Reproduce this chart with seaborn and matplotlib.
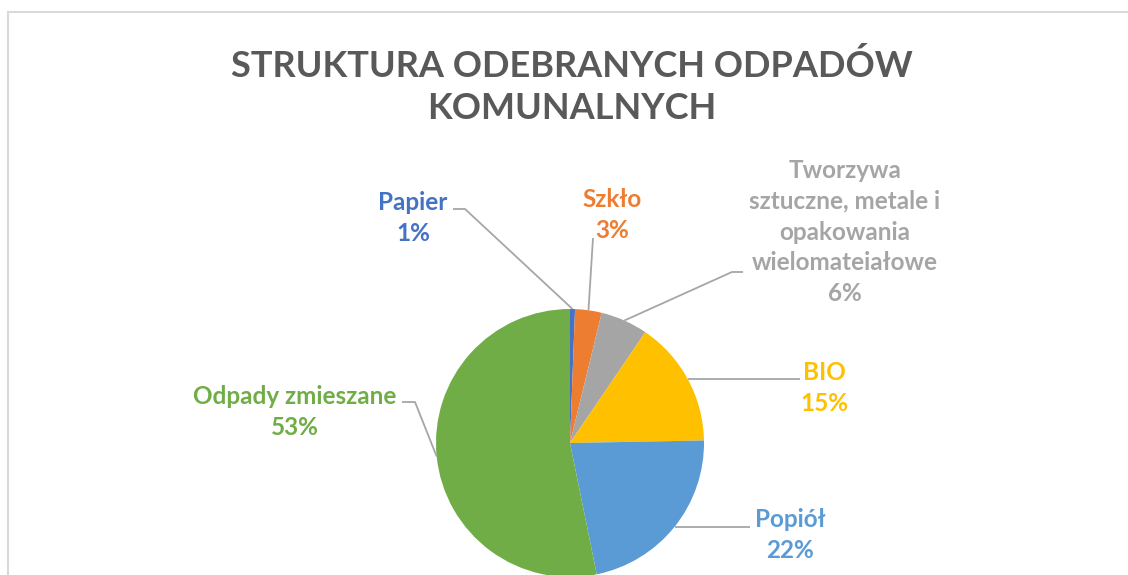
import numpy as np
import matplotlib
matplotlib.use("Agg")
import matplotlib.pyplot as plt
import seaborn as sns

# ---- data ----
categories = ["Papier", "Szkło", "Tworzywa\nsztuczne, metale i\nopakowania\nwielomateiałowe",
              "BIO", "Popiół", "Odpady zmieszane"]
values = [0.6, 3.2, 5.7, 15.2, 22.1, 53.2]
colors = ["#4472C4", "#ED7D31", "#A5A5A5", "#FFC000", "#5B9BD5", "#70AD47"]
title = "STRUKTURA ODEBRANYCH ODPADÓW\nKOMUNALNYCH"

sns.set_theme(style="white")
plt.rcParams["font.family"] = ["Lato", "DejaVu Sans"]

W, H = 1128, 575
fig = plt.figure(figsize=(W / 100, H / 100), dpi=100)
ax = fig.add_axes([0, 0, 1, 1])

def Y(y):
    return H - y

cx, cy, r = 570, Y(443), 134
wedges, _ = ax.pie(values, colors=colors, startangle=90, counterclock=False,
                   center=(cx, cy), radius=r, frame=True,
                   wedgeprops=dict(linewidth=0))
ax.set_xlim(0, W)
ax.set_ylim(0, H)
ax.set_aspect("equal")
ax.axis("off")

# frame
ax.plot([8, 8], [Y(12), -10], color="#D9D9D9", lw=1.5, clip_on=False)
ax.plot([8, W + 10], [Y(12), Y(12)], color="#D9D9D9", lw=1.5, clip_on=False)

# title
ax.text(572, Y(87), title, ha="center", va="center", fontsize=26, fontweight="bold",
        color="#595959", linespacing=1.3)

# label layout: (text center x, text center y, leader path points after anchor)
layout = [
    (413, 218, [(465, 209), (453, 209)]),
    (612, 215, [(593, 238)]),
    (845, 232, [(732, 272), (743, 272)]),
    (824, 388, [(800, None)]),
    (790, 535, [(750, None)]),
    (295, 412, [(415, 402), (402, 402)]),
]

for w, cat, v, col, (tx, ty, path) in zip(wedges, categories, values, colors, layout):
    ang = np.deg2rad((w.theta1 + w.theta2) / 2)
    ax_, ay_ = cx + r * np.cos(ang), cy + r * np.sin(ang)
    xs, ys = [ax_], [ay_]
    for px, py in path:
        xs.append(px)
        ys.append(ay_ if py is None else Y(py))
    ax.plot(xs, ys, color="#A6A6A6", lw=1.3, solid_capstyle="butt", zorder=1)
    pct = int(v + 0.5)
    ax.text(tx, Y(ty), f"{cat}\n{pct}%", ha="center", va="center", fontsize=17.5,
            fontweight="bold", color=col, linespacing=1.42)

fig.savefig("out.png", dpi=100)
